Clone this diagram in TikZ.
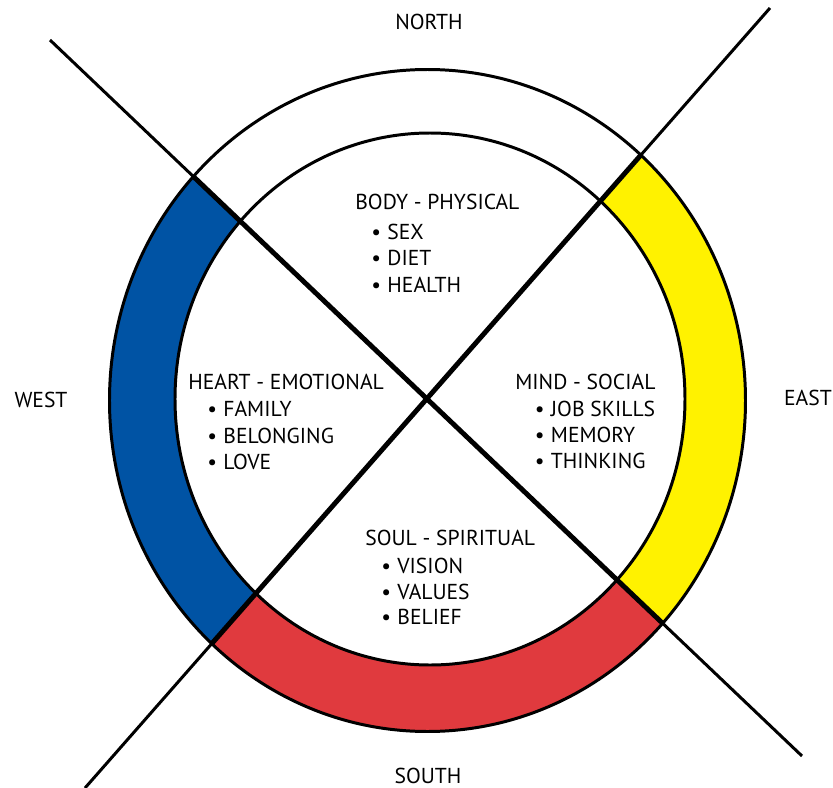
\documentclass[tikz,border=0pt]{standalone}
\usepackage{fontspec}
\setmainfont{PT Sans}

\definecolor{westblue}{HTML}{0053A4}
\definecolor{eastyellow}{HTML}{FFF200}
\definecolor{southred}{HTML}{E03A3E}

\newcommand{\bul}{\textbullet\hspace{3.6pt}}

\tikzset{
  compass/.style={font=\fontsize{12.3}{14}\selectfont},
  title/.style={anchor=west,inner sep=0pt,font=\fontsize{12.3}{14}\selectfont},
  item/.style={anchor=west,inner sep=0pt,font=\fontsize{12.3}{14}\selectfont},
  ring/.style={line width=1.7pt},
  thinline/.style={line width=1.7pt},
  thickline/.style={line width=2.8pt}
}

\begin{document}
\begin{tikzpicture}[x=0.02cm,y=-0.02cm]
\useasboundingbox (0,0) rectangle (833,788);
% centre and ends of the two lines
\coordinate (c) at (428,399);
\coordinate (nw) at (50,40);
\coordinate (se) at (802,756);
\coordinate (ne) at (770,8);
\coordinate (sw) at (85,788);
% coloured parts of the ring
\begin{scope}
\clip (427.5,400.5) ellipse (318 and 331);
\fill[westblue] (c) -- (nw) -- (0,0) -- (0,788) -- (sw) -- cycle;
\fill[eastyellow] (c) -- (ne) -- (833,8) -- (833,756) -- (se) -- cycle;
\fill[southred] (c) -- (sw) -- (833,788) -- (se) -- cycle;
\end{scope}
\fill[white] (430,399) ellipse (255 and 266);
% the cross
\draw[thinline] (nw) -- (se);
\draw[thinline] (ne) -- (sw);
\begin{scope}
\clip (427.5,400.5) ellipse (318 and 331);
\draw[thickline] (nw) -- (se);
\draw[thickline] (ne) -- (sw);
\end{scope}
% circles
\draw[ring] (427.5,400.5) ellipse (318 and 331);
\draw[ring] (430,399) ellipse (255 and 266);
% directions
\node[compass] (north) at (429,22) {NORTH};
\node[compass] (west) at (41,400) {WEST};
\node[compass] (east) at (808,398) {EAST};
\node[compass] (south) at (428,776) {SOUTH};
% body
\node[title] (body) at (355,202) {BODY - PHYSICAL};
\node[item] (sex) at (371,232) {\bul SEX};
\node[item] (diet) at (371,258) {\bul DIET};
\node[item] (health) at (371,285) {\bul HEALTH};
% heart
\node[title] (heart) at (188,382) {HEART - EMOTIONAL};
\node[item] (family) at (207,409) {\bul FAMILY};
\node[item] (belonging) at (207,436) {\bul BELONGING};
\node[item] (love) at (207,462) {\bul LOVE};
% mind
\node[title] (mind) at (515,382) {MIND - SOCIAL};
\node[item] (job) at (534.5,409) {\bul JOB SKILLS};
\node[item] (memory) at (534.5,435) {\bul MEMORY};
\node[item] (thinking) at (534.5,461) {\bul THINKING};
% soul
\node[title] (soul) at (365,538) {SOUL - SPIRITUAL};
\node[item] (vision) at (381,566) {\bul VISION};
\node[item] (values) at (381,592) {\bul VALUES};
\node[item] (belief) at (381,617) {\bul BELIEF};
\end{tikzpicture}
\end{document}
